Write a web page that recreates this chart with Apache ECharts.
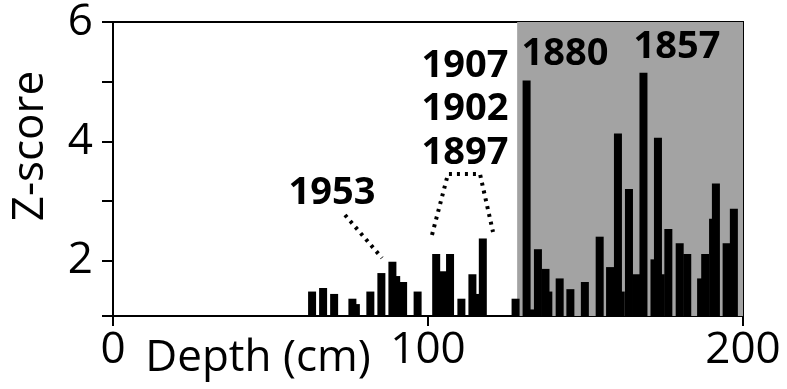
<!DOCTYPE html>
<html>
<head>
<meta charset="utf-8">
<script src="https://cdn.jsdelivr.net/npm/echarts@6/dist/echarts.min.js"></script>
<style>html,body{margin:0;padding:0;background:#fff}#c{width:787px;height:389px}</style>
</head>
<body>
<div id="c"></div>
<script>
// Depth (cm) of each bar and its Z-score
const depths = [63.2, 66.7, 70.2, 76.0, 77.1, 81.7, 85.2, 88.7, 89.9, 92.1, 96.7,
  102.6, 104.8, 107.0, 110.6, 114.1, 115.2, 117.4, 127.8, 131.3, 132.6, 134.9,
  137.3, 138.2, 141.8, 145.2, 149.8, 154.5, 157.8, 160.3, 161.2, 163.8, 166.1,
  168.4, 171.9, 173.0, 173.9, 176.3, 179.9, 182.3, 186.7, 188.0, 190.5, 191.4,
  194.8, 197.1];
const zScores = [1.48, 1.54, 1.44, 1.36, 1.27, 1.48, 1.79, 1.98, 1.74, 1.64, 1.48,
  2.11, 1.82, 2.11, 1.36, 1.77, 1.44, 2.37, 1.36, 5.02, 1.18, 2.19,
  1.86, 1.48, 1.70, 1.52, 1.64, 2.40, 1.89, 4.13, 1.48, 3.20, 1.77,
  5.15, 2.02, 4.06, 1.77, 2.53, 2.29, 2.11, 1.70, 2.11, 2.70, 3.29,
  2.29, 2.87];
const shadedRange = [128.3, 200];
const xTicks = [0, 100, 200];
const yTickValues = [1.07, 2, 3, 4, 5, 6];
const yLabelValues = [2, 4, 6];
const yRange = [1.07, 6];

const FONT = 'Open Sans';
const chart = echarts.init(document.getElementById('c'), null, {renderer: 'canvas'});
const barData = depths.map((d, i) => [d, zScores[i]]);

chart.setOption({
  animation: false,
  backgroundColor: '#fff',
  grid: {left: 113, right: 44, top: 15, bottom: 73, show: true, borderColor: '#000', borderWidth: 2},
  xAxis: {
    type: 'value', min: xTicks[0], max: xTicks[xTicks.length - 1], interval: 100,
    splitLine: {show: false},
    axisLine: {lineStyle: {color: '#000', width: 2}},
    axisTick: {inside: false, length: 10, lineStyle: {color: '#000', width: 2}},
    axisLabel: {color: '#000', fontSize: 44, fontFamily: FONT, margin: 12}
  },
  yAxis: {
    type: 'value', min: yRange[0], max: yRange[1],
    splitLine: {show: false},
    axisLine: {show: true, lineStyle: {color: '#000', width: 2}},
    axisTick: {show: true, length: 11, customValues: yTickValues, lineStyle: {color: '#000', width: 2}},
    axisLabel: {color: '#000', fontSize: 44, fontFamily: FONT, margin: 20, customValues: yLabelValues}
  },
  series: [
    {
      type: 'bar', z: 1, data: [],
      markArea: {silent: true, itemStyle: {color: '#a3a3a3'},
        data: [[{xAxis: shadedRange[0]}, {xAxis: shadedRange[1]}]]}
    },
    {
      type: 'bar', z: 3, barWidth: 8, barGap: '-100%',
      itemStyle: {color: '#000'},
      data: barData
    }
  ],
  graphic: [
    {type: 'text', x: 30, y: 146, rotation: Math.PI / 2,
      style: {text: 'Z-score', font: '44px "Open Sans"', fill: '#000', textAlign: 'center', textVerticalAlign: 'middle'}},
    {type: 'text', x: 258, y: 358,
      style: {text: 'Depth (cm)', font: '44px "Open Sans"', fill: '#000', textAlign: 'center', textVerticalAlign: 'middle'}},
    {type: 'text', x: 332, y: 193, z: 10,
      style: {text: '1953', font: 'bold 38px "Open Sans"', fill: '#000', textAlign: 'center', textVerticalAlign: 'middle'}},
    {type: 'text', x: 465, y: 66, z: 10,
      style: {text: '1907', font: 'bold 38px "Open Sans"', fill: '#000', textAlign: 'center', textVerticalAlign: 'middle'}},
    {type: 'text', x: 465, y: 109, z: 10,
      style: {text: '1902', font: 'bold 38px "Open Sans"', fill: '#000', textAlign: 'center', textVerticalAlign: 'middle'}},
    {type: 'text', x: 465, y: 153, z: 10,
      style: {text: '1897', font: 'bold 38px "Open Sans"', fill: '#000', textAlign: 'center', textVerticalAlign: 'middle'}},
    {type: 'text', x: 565, y: 54, z: 10,
      style: {text: '1880', font: 'bold 38px "Open Sans"', fill: '#000', textAlign: 'center', textVerticalAlign: 'middle'}},
    {type: 'text', x: 677, y: 47, z: 10,
      style: {text: '1857', font: 'bold 38px "Open Sans"', fill: '#000', textAlign: 'center', textVerticalAlign: 'middle'}},
    {type: 'polyline', z: 10,
      shape: {points: [[345, 215], [382, 258]]},
      style: {stroke: '#000', lineWidth: 4, lineDash: [3, 5], fill: null}},
    {type: 'polyline', z: 10,
      shape: {points: [[432, 235], [448, 174], [480, 174], [493, 232]]},
      style: {stroke: '#000', lineWidth: 4, lineDash: [3, 5], fill: null}}
  ]
});
</script>
</body>
</html>
